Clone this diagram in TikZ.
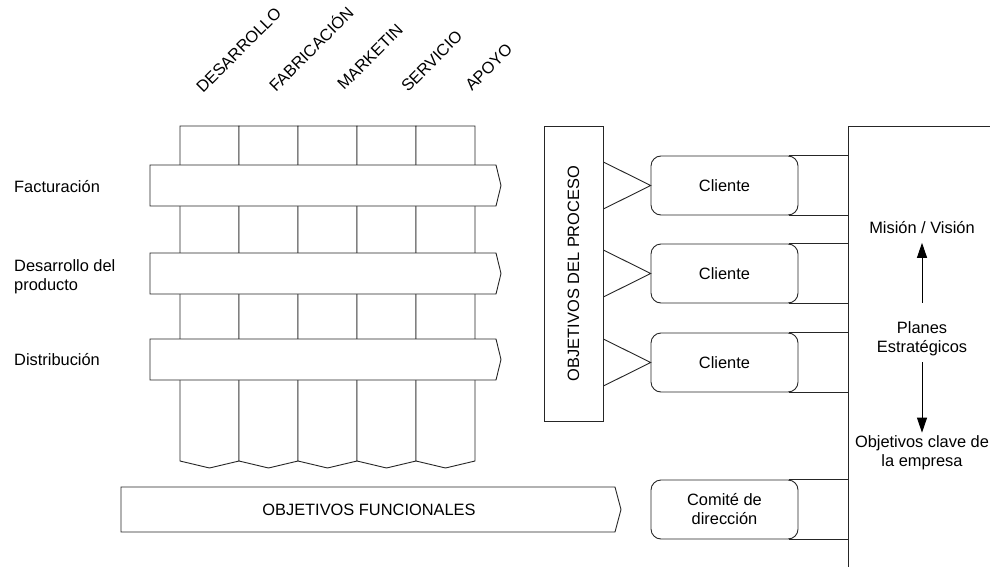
\documentclass[tikz,border=0pt]{standalone}
\usepackage{fontspec}
\setmainfont{Liberation Sans}
\usetikzlibrary{arrows.meta}
\begin{document}
\begin{tikzpicture}[x=1pt,y=-1pt,
  line/.style={draw=black!85, line width=0.9pt},
  txt/.style={inner sep=0pt, font=\fontsize{16.4}{19}\selectfont},
  box/.style={line, fill=white, rounded corners=10pt, minimum width=147pt,
    minimum height=59pt, align=center, txt},
  arr/.style={draw=black, line width=0.9pt, -{Triangle[length=15pt,width=10pt]}}]
\useasboundingbox (0,0) rectangle (990,567);
\fill[white] (0,0) rectangle (990,567);

% functional columns with pointed bottoms
\foreach \x [count=\i] in {180,239,298,357,416} {
  \draw[line, fill=white] (\x,126) -- (\x+59,126) -- (\x+59,461)
    -- (\x+29.5,468) -- (\x,461) -- cycle;
}

% process bars crossing the columns
\foreach \y in {165,253,339} {
  \draw[line, fill=white] (150,\y) -- (496,\y) -- (501,\y+20.5)
    -- (496,\y+41) -- (150,\y+41) -- cycle;
}

% function names
\foreach \t/\x/\y [count=\i] in {DESARROLLO/203/94, FABRICACI\'ON/276/93,
    MARKETIN/344/91, SERVICIO/408/93, APOYO/472/92} {
  \node[txt, rotate=45, anchor=base west] (fn\i) at (\x,\y) {\t};
}

% process names
\node[txt, anchor=base west] (fact) at (14,192) {Facturación};
\node[txt, anchor=west, align=left] (desa) at (14,277) {Desarrollo del\\producto};
\node[txt, anchor=base west] (dist) at (14,365) {Distribución};

% functional objectives
\draw[line, fill=white] (121,487) -- (615,487) -- (621,509.5) -- (615,532)
  -- (121,532) -- cycle;
\node[txt] (func) at (369,509.5) {OBJETIVOS FUNCIONALES};

% process objectives
\node[line, txt, fill=white, rotate=90, minimum width=295pt, minimum height=59pt]
  (proc) at (573.5,273.5) {OBJETIVOS DEL PROCESO};

% customers and steering committee
\node[box] (c1) at (724.5,185.5) {Cliente};
\node[box] (c2) at (724.5,273.5) {Cliente};
\node[box] (c3) at (724.5,362.5) {Cliente};
\node[box] (cd) at (724.5,509.5) {Comité de\\dirección};

\foreach \n in {c1,c2,c3} {
  \draw[line] ([yshift=23.5pt]\n.west -| proc.south) -- (\n.west)
    -- ([yshift=-23.5pt]\n.west -| proc.south);
}

% company spine
\coordinate (sTop) at (848,126);
\coordinate (sBot) at (848,567);
\coordinate (sEnd) at (990,126);
\draw[line] (sEnd) -- (sTop) -- (sBot);

\foreach \n in {c1,c2,c3,cd} {
  \draw[line] ([xshift=-9pt]\n.north east) -- (\n.north east -| sTop);
  \draw[line] ([xshift=-9pt]\n.south east) -- (\n.south east -| sTop);
}

% strategic planning
\node[txt] (mis) at (922,227.5) {Misión / Visión};
\node[txt, align=center] (plan) at (922,339) {Planes\\Estratégicos};
\node[txt, align=center] (okey) at (922,453) {Objetivos clave de\\la empresa};
\draw[arr, shorten <=19pt, shorten >=9pt] (plan.north) -- (mis.south);
\draw[arr, shorten <=6pt, shorten >=3pt] (plan.south) -- (okey.north);
\end{tikzpicture}
\end{document}
